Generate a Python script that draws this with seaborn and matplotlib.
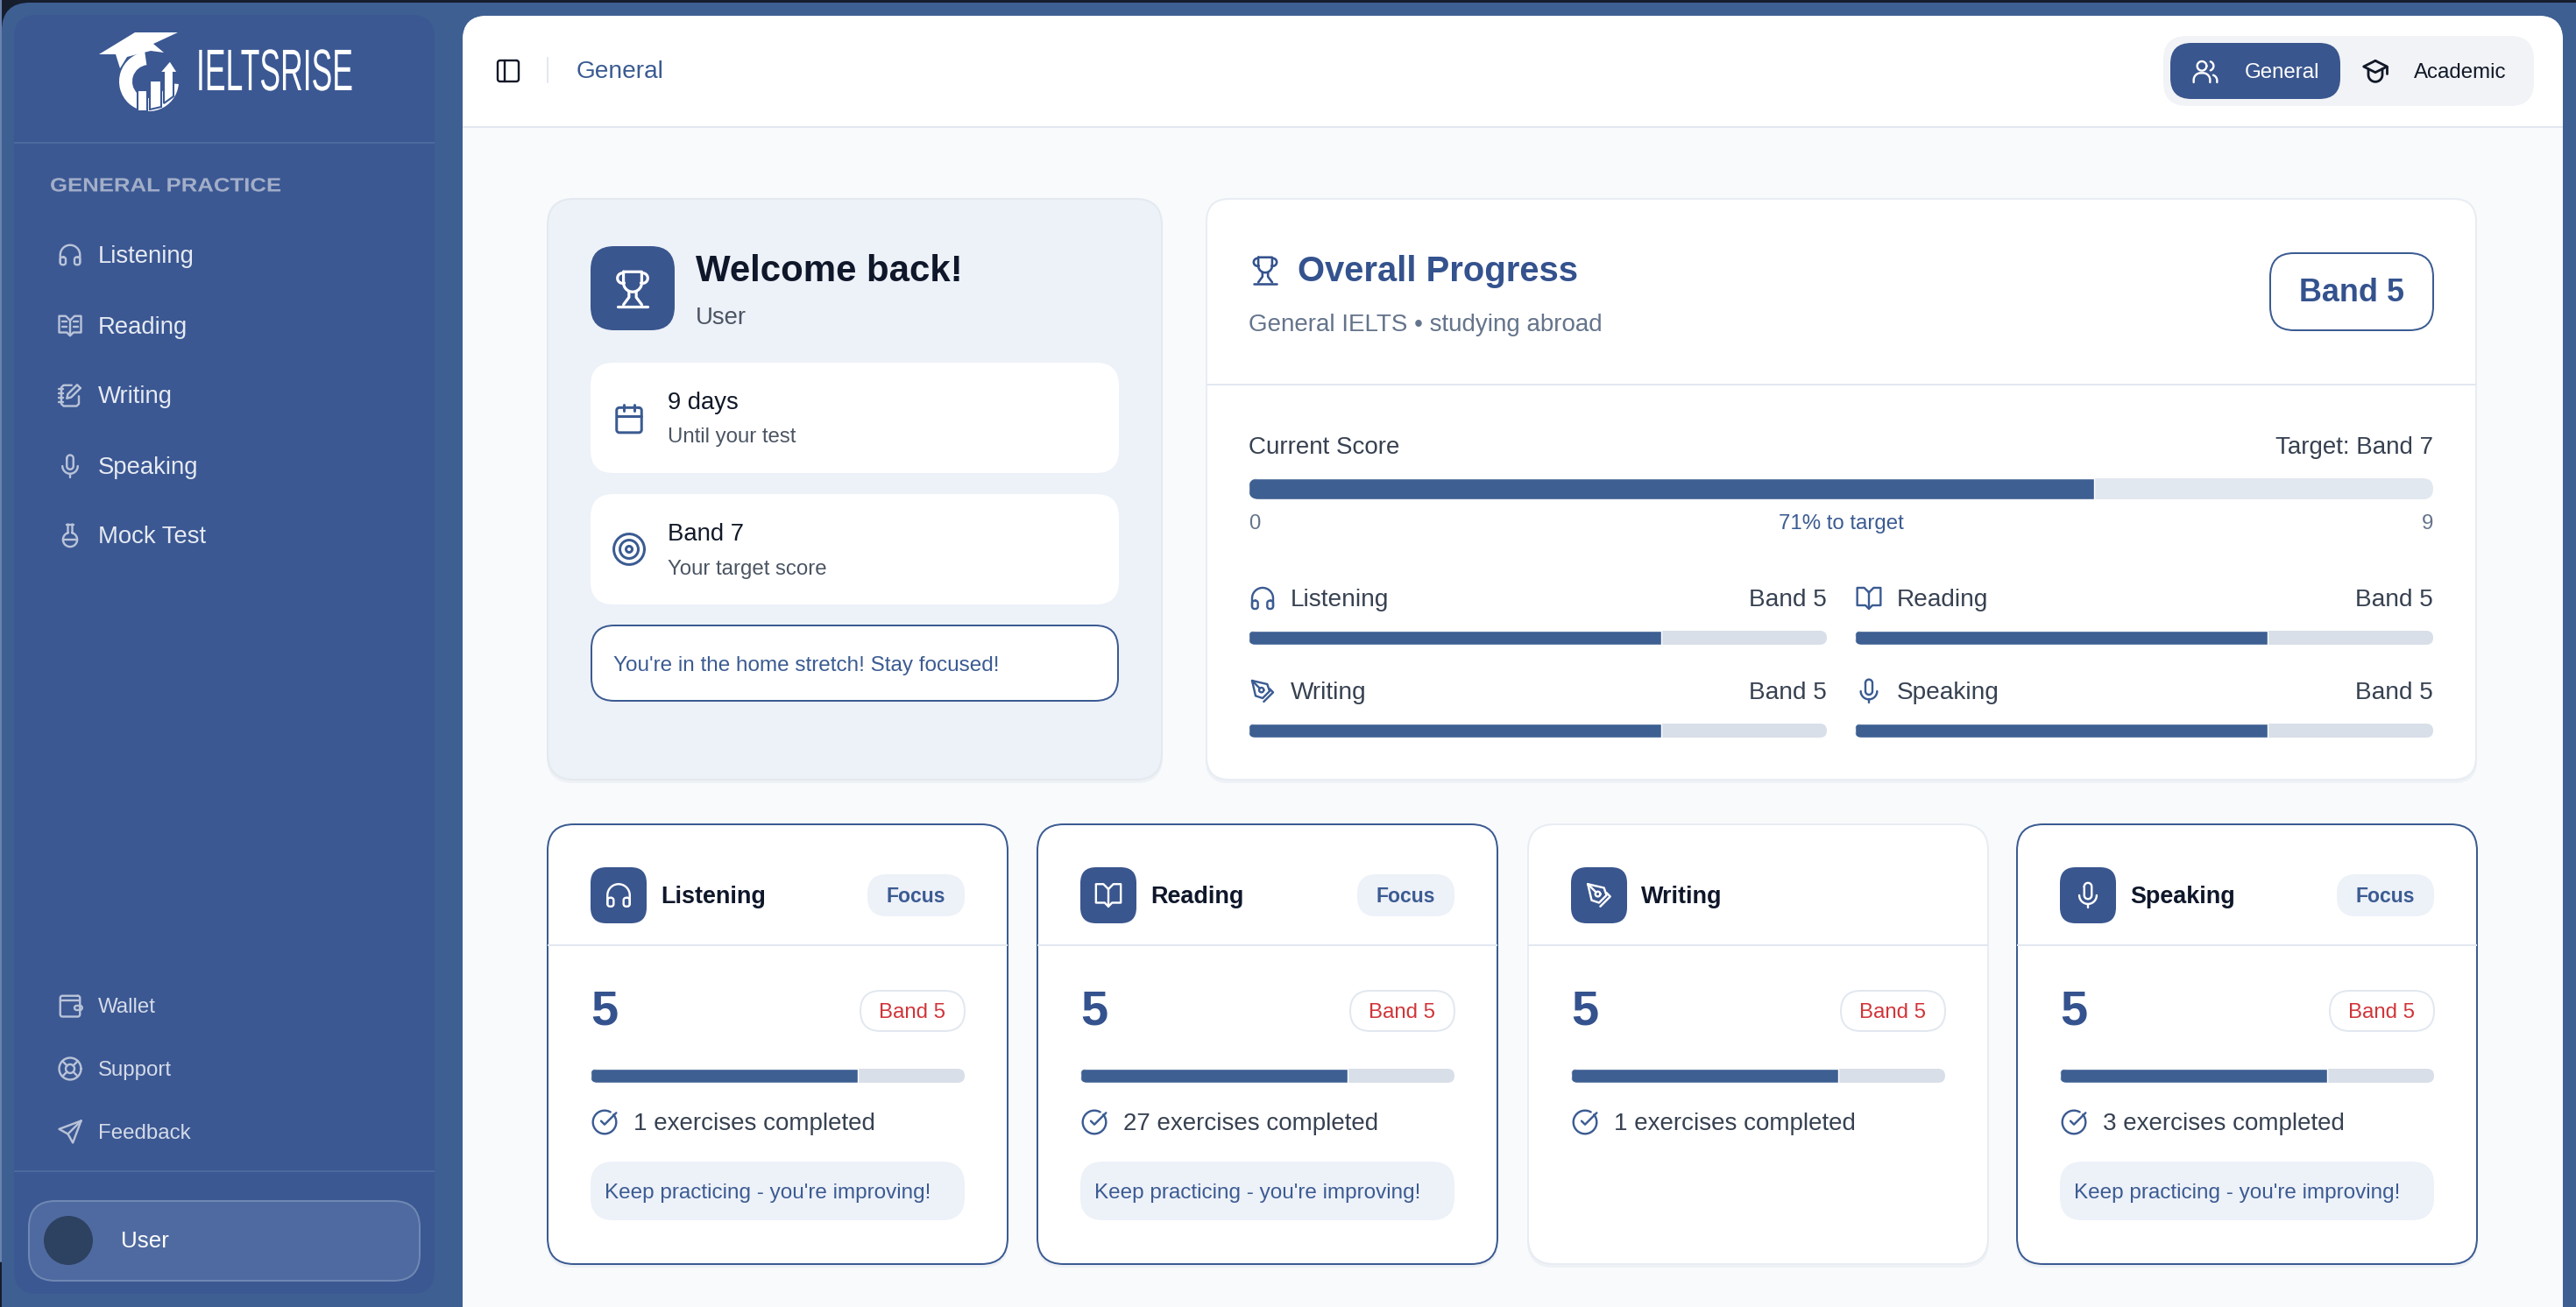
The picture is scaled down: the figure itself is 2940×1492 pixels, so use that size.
"""
IELTS dashboard screenshot, drawn in pixel coordinates with seaborn progress bars.
"""
import matplotlib
matplotlib.use("Agg")
import matplotlib.pyplot as plt
import numpy as np
import pandas as pd
import seaborn as sns
from matplotlib.patches import Circle, FancyBboxPatch, Polygon, Wedge
from matplotlib.patheffects import AbstractPathEffect
from matplotlib.transforms import Affine2D

sns.set_theme(style="white")
plt.rcParams["font.family"] = ["Liberation Sans", "DejaVu Sans"]

W, H = 2940, 1492

NAV_ITEMS = ["Listening", "Reading", "Writing", "Speaking", "Mock Test"]
NAV_ICONS = ["headphones", "book_text", "notebook", "mic", "flask"]
FOOT_ITEMS = ["Wallet", "Support", "Feedback"]
FOOT_ICONS = ["wallet", "lifebuoy", "send"]

SKILLS = ["Listening", "Reading", "Writing", "Speaking"]
SKILL_ICONS = ["headphones", "book", "pen", "mic"]
SKILL_BANDS = [5, 5, 5, 5]
SKILL_SCORES = [5, 5, 5, 5]
SKILL_PROGRESS = [71.4, 71.4, 71.4, 71.4]
SKILL_EXERCISES = [1, 27, 1, 3]
SKILL_FOCUS = [True, True, False, True]

OVERALL_PROGRESS = 71.4
OVERALL_BAND = 5
TARGET_BAND = 7
DAYS_LEFT = 9

BLUE = "#3b5b92"
NAVY = "#34528e"
TILE = "#3a568e"
INK = "#0f172a"
BODY = "#374151"
MUTED = "#4b5563"
SLATE = "#64748b"
LINE = "#e2e8f0"
PALE = "#edf1f8"
TRACK = "#d8dfe8"

fig = plt.figure(figsize=(W / 100, H / 100), dpi=100, facecolor="#161d2c")
ax = fig.add_axes([0, 0, 1, 1])
ax.set_xlim(0, W)
ax.set_ylim(H, 0)
ax.set_axis_off()


class Stretch(AbstractPathEffect):
    """Scale drawn text in x around a display position (no condensed font here)."""

    def __init__(self, x0, sx):
        super().__init__()
        self.x0 = x0
        self.sx = sx

    def draw_path(self, renderer, gc, tpath, affine, rgbFace=None):
        squeeze = Affine2D().translate(-self.x0, 0).scale(self.sx, 1).translate(self.x0, 0)
        renderer.draw_path(gc, tpath, affine + squeeze, rgbFace)


def box(x0, y0, x1, y1, r, fill, edge="none", lw=0, z=1):
    patch = FancyBboxPatch(
        (x0, y0), x1 - x0, y1 - y0, boxstyle=f"round,pad=0,rounding_size={r}",
        facecolor=fill, edgecolor=edge, linewidth=lw * 0.72, zorder=z,
    )
    ax.add_patch(patch)
    return patch


def card(x0, y0, x1, y1, r, fill, edge, lw=2):
    box(x0 - 1, y0 + 2, x1 + 1, y1 + 4, r, "#eef1f5", z=1)
    return box(x0, y0, x1, y1, r, fill, edge, lw, z=2)


def label(x, y, s, px, color, weight="normal", ha="left", **kw):
    # y is the optical centre of the string; va="center" sits about 2px high
    return ax.text(x, y + 2, s, fontsize=px * 0.72, color=color, fontweight=weight,
                   ha=ha, va="center", zorder=6, **kw)


def hline(x0, x1, y, color=LINE, lw=2):
    ax.plot([x0, x1], [y, y], color=color, lw=lw * 0.72, zorder=3, solid_capstyle="butt")


def arc(cx, cy, r, a0, a1, n=30):
    t = np.radians(np.linspace(a0, a1, n))
    return list(zip(cx + r * np.cos(t), cy + r * np.sin(t)))


def rrect(x0, y0, x1, y1, r):
    return (arc(x1 - r, y0 + r, r, -90, 0, 8) + arc(x1 - r, y1 - r, r, 0, 90, 8)
            + arc(x0 + r, y1 - r, r, 90, 180, 8) + arc(x0 + r, y0 + r, r, 180, 270, 8)
            + [(x1 - r, y0)])


# icons as strokes in a 24x24 box, y pointing down
ICONS = {
    "headphones": [[(3, 19), (3, 12)] + arc(12, 12, 9, 180, 360) + [(21, 19)],
                   rrect(3, 14, 8, 21, 2), rrect(16, 14, 21, 21, 2)],
    "book": [[(12, 7), (8, 3), (2, 3), (2, 18), (9, 18), (12, 21), (15, 18), (22, 18), (22, 3), (16, 3), (12, 7)],
             [(12, 7), (12, 21)]],
    "book_text": [[(12, 7), (8, 3), (2, 3), (2, 18), (9, 18), (12, 21), (15, 18), (22, 18), (22, 3), (16, 3), (12, 7)],
                  [(12, 7), (12, 21)], [(5, 8), (9, 8)], [(5, 13), (9, 13)], [(15, 8), (19, 8)], [(15, 13), (19, 13)]],
    "notebook": [[(13.4, 3), (6, 3), (4, 5), (4, 20), (6, 22), (18, 22), (20, 20), (20, 13)],
                 [(2, 6), (6, 6)], [(2, 10), (6, 10)], [(2, 14), (6, 14)], [(2, 18), (6, 18)],
                 [(21.4, 5.6), (18.4, 2.6), (10, 11), (9, 15), (13, 14), (21.4, 5.6)]],
    "mic": [arc(12, 5, 3, 180, 360) + arc(12, 12, 3, 0, 180) + [(9, 5)],
            arc(12, 12, 7, 0, 180), [(12, 19), (12, 22)]],
    "flask": [[(10, 2), (10, 10)] + arc(12, 16, 6.5, 252, -72) + [(14, 10), (14, 2)],
              [(8.5, 2), (15.5, 2)], [(5.5, 16), (18.5, 16)]],
    "wallet": [rrect(3, 3, 21, 22, 2), [(3, 7), (21, 7)], rrect(16, 12, 23, 16, 2)],
    "lifebuoy": [arc(12, 12, 10, 0, 360), arc(12, 12, 4, 0, 360), [(5, 5), (9.2, 9.2)], [(19, 5), (14.8, 9.2)],
                 [(5, 19), (9.2, 14.8)], [(19, 19), (14.8, 14.8)]],
    "send": [[(22, 2), (2, 9.5), (10, 14), (14.5, 22), (22, 2)], [(10, 14), (22, 2)]],
    "trophy": [[(7, 3), (17, 3), (17, 9)] + arc(12, 9, 5, 0, 180) + [(7, 3)],
               arc(6.5, 6.5, 2.8, 70, 270), arc(17.5, 6.5, 2.8, -90, 110),
               [(10, 14), (10, 17), (7, 21)], [(14, 14), (14, 17), (17, 21)], [(4, 22), (20, 22)]],
    "calendar": [rrect(3, 4, 21, 22, 2), [(3, 10), (21, 10)], [(8, 2), (8, 6)], [(16, 2), (16, 6)]],
    "target": [arc(12, 12, 10, 0, 360), arc(12, 12, 6, 0, 360), arc(12, 12, 2, 0, 360)],
    "check": [arc(12, 12, 10, -40, 300), [(9, 11), (12, 14), (22, 4)]],
    "pen": [[(3, 3), (16, 6), (18, 12), (12, 18), (6, 16), (3, 3)], [(13, 21), (21, 13), (18, 10)], [(3, 3), (9.5, 9.5)],
            arc(11, 11, 2, 0, 360)],
    "users": [arc(9, 7, 4, 0, 360), [(2, 21), (2, 19)] + arc(8, 19, 6, 180, 270)[:-1] + arc(10, 19, 6, 270, 360) + [(16, 21)],
              arc(15, 7, 4, -70, 70), arc(17, 19.5, 5, -70, 0) + [(22, 21)]],
    "cap": [[(12, 4), (22, 9), (12, 14), (2, 9), (12, 4)], [(6, 11), (6, 16)] + arc(12, 16, 6, 180, 0) + [(18, 11)],
            [(22, 9), (22, 15)]],
    "panel": [rrect(3, 3, 21, 21, 2), [(9, 3), (9, 21)]],
}


def icon(name, cx, cy, size, color, lw=2.4):
    s = size / 24
    for stroke in ICONS[name]:
        pts = np.array(stroke)
        ax.plot(cx + (pts[:, 0] - 12) * s, cy + (pts[:, 1] - 12) * s, color=color, lw=lw * 0.72,
                solid_capstyle="round", solid_joinstyle="round", zorder=6)


def progress(x0, y0, x1, y1, name, value, track=TRACK):
    """Rounded track from a patch, the fill from a seaborn bar clipped to it."""
    r = (y1 - y0) / 2
    shape = box(x0, y0, x1, y1, r, track, z=4)
    bar_ax = fig.add_axes([x0 / W, 1 - y1 / H, (x1 - x0) / W, (y1 - y0) / H])
    df = pd.DataFrame({"name": [name], "progress": [value]})
    sns.barplot(data=df, x="progress", y="name", color="#3d5f92", saturation=1, width=1, ax=bar_ax)
    bar_ax.set_xlim(0, 100)
    bar_ax.set_axis_off()
    for bar in bar_ax.patches:
        bar.set_clip_path(shape)


# window and sidebar
ax.plot([1, 1], [0, 1440], color="#6b82ad", lw=1.5, zorder=0.2)
box(2, 3, 3100, 1700, 32, "#3e5f92", z=0.3)
box(16, 17, 496, 1477, 26, "#3b5893", z=0.5)

# logo
LOGO = "#ffffff"
ax.add_patch(Wedge((170, 93), 34, 5, 262, width=15, facecolor=LOGO, edgecolor="none", zorder=3))
ax.add_patch(Polygon([(113, 62), (154, 37), (203, 37), (175, 50), (187, 60), (172, 58), (145, 65), (137, 78), (132, 62)],
                     facecolor=LOGO, edgecolor="none", zorder=3))
ax.add_patch(Polygon([(157, 103), (168, 103), (168, 127), (157, 127)], facecolor=LOGO, edgecolor="#3b5893", lw=1.5, zorder=4))
ax.add_patch(Polygon([(171, 92), (184, 92), (184, 122), (171, 125)], facecolor=LOGO, edgecolor="#3b5893", lw=1.5, zorder=4))
ax.add_patch(Polygon([(194, 69), (203, 83), (198, 83), (198, 110), (187, 118), (187, 83), (182, 83)],
                     facecolor=LOGO, edgecolor="#3b5893", lw=1.5, zorder=4))
label(224, 84, "IELTSRISE", 67, LOGO, path_effects=[Stretch(224, 0.53)])
hline(16, 496, 163, "#4d6a9d")

label(57, 211, "GENERAL PRACTICE", 22, "#a3aec8", "bold", path_effects=[Stretch(57, 1.17)])
for name, glyph, y in zip(NAV_ITEMS, NAV_ICONS, [291, 372, 451, 532, 611]):
    icon(glyph, 80, y, 30, "#b9c3d8")
    label(112, y, name, 27.5, "#e6eaf2")
for name, glyph, y in zip(FOOT_ITEMS, FOOT_ICONS, [1148, 1220, 1292]):
    icon(glyph, 80, y, 30, "#b9c3d8")
    label(112, y, name, 24, "#d5dbe8")
hline(16, 496, 1337, "#4d6a9d")
box(33, 1371, 479, 1462, 30, "#4f6aa0", "#6f88b3", 2, z=2)
ax.add_patch(Circle((78, 1416), 28, facecolor="#2d4161", edgecolor="none", zorder=3))
label(138, 1415, "User", 26, "#ffffff")

# main panel and header
box(528, 18, 2925, 1700, 28, "#f8fafc", z=0.6)
box(528, 18, 2925, 180, 28, "#ffffff", z=0.7)
ax.fill_between([528, 2925], 100, 145, color="#ffffff", lw=0, zorder=0.8)
ax.fill_between([528, 2925], 146, 200, color="#f8fafc", lw=0, zorder=0.8)
hline(528, 2925, 145)
icon("panel", 580, 81, 32, "#111827")
ax.plot([625, 625], [66, 94], color=LINE, lw=1.5, zorder=3)
label(658, 80, "General", 28, BLUE)

box(2469, 41, 2892, 121, 27, "#f1f3f6", z=2)
box(2477, 49, 2671, 113, 24, "#3a568e", z=3)
icon("users", 2517, 82, 32, "#ffffff")
label(2562, 81, "General", 24, "#ffffff")
icon("cap", 2711, 80, 32, "#111827", 2.8)
label(2755, 81, "Academic", 24, "#111827")

# welcome card
card(625, 227, 1326, 890, 30, PALE, "#e4e9f0")
box(674, 281, 770, 377, 27, TILE, z=3)
icon("trophy", 722, 329, 50, "#ffffff", 3.2)
label(794, 308, "Welcome back!", 42, INK, "bold")
label(794, 361, "User", 27.5, MUTED)

box(674, 414, 1277, 540, 26, "#ffffff", z=3)
icon("calendar", 718, 478, 38, BLUE, 3)
label(762, 458, f"{DAYS_LEFT} days", 27.5, "#111827")
label(762, 497, "Until your test", 24, MUTED)
box(674, 564, 1277, 690, 26, "#ffffff", z=3)
icon("target", 718, 627, 42, BLUE, 3)
label(762, 608, f"Band {TARGET_BAND}", 27.5, "#111827")
label(762, 648, "Your target score", 24, MUTED)
box(675, 714, 1276, 800, 26, "#ffffff", BLUE, 2, z=3)
label(700, 758, "You're in the home stretch! Stay focused!", 24.2, BLUE)

# overall progress card
card(1377, 227, 2826, 890, 26, "#ffffff", "#e8edf3")
icon("trophy", 1444, 308, 38, NAVY, 2.6)
label(1481, 308, "Overall Progress", 40, NAVY, "bold")
label(1425, 369, "General IELTS • studying abroad", 27.8, SLATE)
box(2591, 289, 2777, 377, 27, "#ffffff", BLUE, 2, z=3)
label(2684, 333, f"Band {OVERALL_BAND}", 36, NAVY, "bold", ha="center")
hline(1377, 2826, 439)
label(1425, 509, "Current Score", 27.8, BODY)
label(2777, 509, f"Target: Band {TARGET_BAND}", 27.8, BODY, ha="right")
progress(1425, 546, 2777, 570, "Overall", OVERALL_PROGRESS, track=LINE)
label(1425, 596, "0", 24, SLATE)
label(2101, 596, "71% to target", 24, BLUE, ha="center")
label(2777, 596, "9", 24, SLATE, ha="right")

ROWS = [(1425, 2085, 683, 720), (2117, 2777, 683, 720), (1425, 2085, 789, 826), (2117, 2777, 789, 826)]
for i, (x0, x1, ty, by) in enumerate(ROWS):
    icon(SKILL_ICONS[i], x0 + 16, ty, 32, BLUE)
    label(x0 + 48, ty, SKILLS[i], 28, BODY)
    label(x1, ty, f"Band {SKILL_BANDS[i]}", 28, BODY, ha="right")
    progress(x0, by, x1, by + 16, SKILLS[i], SKILL_PROGRESS[i])

# skill cards
for i, x in enumerate([625, 1184, 1744, 2302]):
    card(x, 941, x + 525, 1443, 30, "#ffffff", BLUE if SKILL_FOCUS[i] else "#e8edf3")
    left, right = x + 49, x + 476
    box(left, 990, left + 64, 1054, 18, TILE, z=3)
    icon(SKILL_ICONS[i], left + 32, 1022, 34, "#ffffff")
    label(left + 80, 1022, SKILLS[i], 27, INK, "bold")
    if SKILL_FOCUS[i]:
        box(right - 111, 998, right, 1046, 22, PALE, z=3)
        label(right - 55.5, 1022, "Focus", 23, BLUE, "bold", ha="center")
    hline(x, x + 525, 1079)

    label(left, 1153, str(SKILL_SCORES[i]), 56, NAVY, "bold")
    box(right - 119, 1131, right, 1177, 23, "#ffffff", LINE, 2, z=3)
    label(right - 59.5, 1154, f"Band {SKILL_BANDS[i]}", 24, "#d13438", ha="center")

    progress(left, 1220, right, 1236, SKILLS[i], SKILL_PROGRESS[i])
    icon("check", left + 16, 1281, 32, BLUE)
    label(left + 49, 1281, f"{SKILL_EXERCISES[i]} exercises completed", 27.8, BODY)
    if SKILL_FOCUS[i]:
        box(left, 1326, right, 1393, 26, PALE, z=3)
        label(left + 16, 1360, "Keep practicing - you're improving!", 24.2, BLUE)

fig.savefig("out.png", dpi=100, facecolor=fig.get_facecolor())
plt.close(fig)
